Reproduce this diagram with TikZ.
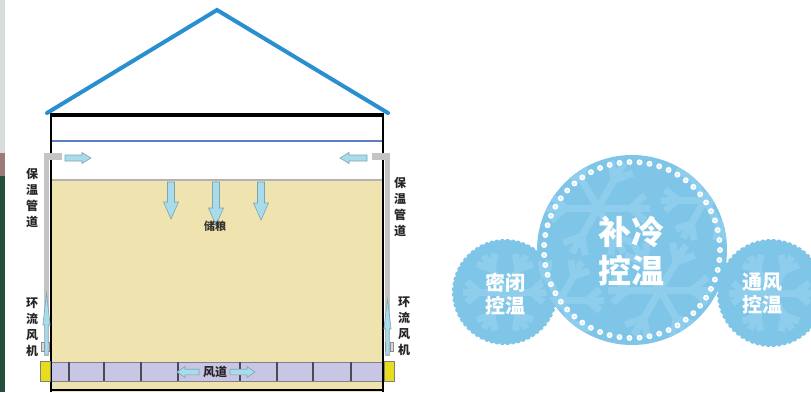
\documentclass[tikz,border=0pt]{standalone}
\usepackage{fontspec}
\newfontfamily\cjk{Noto Sans CJK SC}
\usetikzlibrary{calc}
\definecolor{roofblue}{HTML}{2A8FD0}
\definecolor{grain}{HTML}{EFE3B0}
\definecolor{duct}{HTML}{C9C5E5}
\definecolor{ductline}{HTML}{4A4A55}
\definecolor{skyline}{HTML}{5B7FC0}
\definecolor{pipe}{HTML}{C4C4C4}
\definecolor{airfill}{HTML}{A9DCEB}
\definecolor{airline}{HTML}{7FA3B5}
\definecolor{fanyellow}{HTML}{E8DC1E}
\definecolor{ice}{HTML}{7EC5E8}
\definecolor{flakeblue}{HTML}{8FCDEC}
\definecolor{icedot}{HTML}{CDEAF7}
\definecolor{stripgrey}{HTML}{D8DCDC}
\definecolor{stripred}{HTML}{9C7A76}
\definecolor{stripgreen}{HTML}{22503A}
\tikzset{
  airarrow/.style={fill=airfill, draw=airline, line width=0.6pt, line join=miter},
  sidelabel/.style={font=\cjk\bfseries\fontsize{12}{16}\selectfont, align=center, inner sep=0pt, text=black!85},
  innerlabel/.style={font=\cjk\bfseries\fontsize{11}{13}\selectfont, inner sep=0pt, text=black!80},
  bigtag/.style={font=\cjk\bfseries\fontsize{33}{39}\selectfont, align=center, inner sep=0pt, text=white},
  smalltag/.style={font=\cjk\bfseries\fontsize{20}{23}\selectfont, align=center, inner sep=0pt, text=white},
  flake/.style={flakeblue, line width=7pt, line cap=butt},
}
% block arrow: x, y, angle, length, shaft half width, head half width, head length
\newcommand\airarrow[7]{%
  \filldraw[airarrow, shift={(#1,#2)}, rotate=#3]
    (0,-#5) -- ({#4-#7},-#5) -- ({#4-#7},-#6) -- (#4,0) -- ({#4-#7},#6)
    -- ({#4-#7},#5) -- (0,#5) -- cycle;}
% six-armed snowflake: centre x, y, arm length
\newcommand\snowflake[3]{%
  \foreach \a in {0,60,...,300}{
    \draw[flake] (#1,#2) -- ++(\a:#3);
    \draw[flake] ($(#1,#2)+(\a:0.62*#3)$) -- ++(\a+40:0.38*#3);
    \draw[flake] ($(#1,#2)+(\a:0.62*#3)$) -- ++(\a-40:0.38*#3);
  }}
\begin{document}
\begin{tikzpicture}[x=1pt,y=-1pt]
\useasboundingbox (0,0) rectangle (811,392);
\fill[white] (0,0) rectangle (811,392);

% edge strip on the far left
\fill[stripgrey] (0,0) rectangle (5,153);
\fill[stripred] (0,153) rectangle (5,176);
\fill[stripgreen] (0,176) rectangle (5,392);

% ---------------- granary section ----------------
\fill[grain] (51,180) rectangle (383,392);
\draw[black!30, line width=1.2pt] (51,180) -- (383,180);
\draw[skyline, line width=1.2pt] (51,141) -- (383,141);

% air duct along the floor
\fill[duct] (51,362) rectangle (383,381);
\draw[ductline!70, line width=0.8pt] (51,362) -- (383,362) (51,381) -- (383,381);
\foreach \x in {69,104,141,178,240,277,313,351}
  \draw[ductline, line width=1.2pt] (\x,362) -- (\x,381);
\draw[black, line width=1.4pt] (51,390) -- (383,390);

% walls and ceiling
\draw[black, line width=2.2pt] (51,392) -- (51,115);
\draw[black, line width=2.2pt] (383,392) -- (383,115);
\draw[black, line width=3.4pt] (49.9,115) -- (384.1,115);

% roof
\draw[roofblue, line width=4pt, line join=miter, line cap=round] (47,113) -- (217,10) -- (388,113);

% insulated pipes
\fill[pipe] (44,153) rectangle (49,356);
\fill[pipe] (44,153) rectangle (62,160);
\fill[pipe] (385,153) rectangle (390,356);
\fill[pipe] (372,153) rectangle (390,160);

% circulation fans
\fill[fanyellow] (40,361) rectangle (50,381);
\draw[black!50, line width=0.5pt] (40,361) rectangle (50,381);
\fill[fanyellow] (384,361) rectangle (394,381);
\draw[black!50, line width=0.5pt] (384,361) rectangle (394,381);
\foreach \x in {41,46} \draw[black!45, fill=black!15, line width=0.5pt] (\x,342) rectangle ++(3.5,9);
\foreach \x in {385,390} \draw[black!45, fill=black!15, line width=0.5pt] (\x,342) rectangle ++(3.5,9);
\airarrow{46.5}{355}{90}{62}{1.6}{3.6}{32}
\airarrow{387.5}{355}{90}{56}{1.6}{3.6}{30}

% air flow arrows
\airarrow{65}{158}{0}{26}{3}{5.5}{9}
\airarrow{367}{158}{180}{27}{3}{5.5}{9}
\airarrow{171}{182}{-90}{37}{3.5}{7.5}{17}
\airarrow{216}{182}{-90}{43}{3.5}{7.5}{17}
\airarrow{261}{182}{-90}{38}{3.5}{7.5}{17}
\airarrow{199}{372}{180}{22}{2.8}{5.5}{8}
\airarrow{230}{372}{0}{25}{2.8}{5.5}{8}

% labels
\node[innerlabel] (store) at (215,226) {储粮};
\node[sidelabel, font=\cjk\bfseries\fontsize{12}{13}\selectfont] (duct) at (215,372) {风道};
\node[sidelabel] (pipeL) at (32,198) {保\\温\\管\\道};
\node[sidelabel] (fanL) at (32,327) {环\\流\\风\\机};
\node[sidelabel] (pipeR) at (400,207) {保\\温\\管\\道};
\node[sidelabel] (fanR) at (404,326) {环\\流\\风\\机};

% ---------------- temperature control badges ----------------
% side badges with toothed rims
\fill[ice] (505,292) circle (53);
\begin{scope}
  \clip (505,292) circle (53);
  \snowflake{505}{292}{42}
\end{scope}
\foreach \i in {0,...,59} \fill[white] ($(505,292)+(\i*6:53.3)$) circle (1.7);

\fill[ice] (771,293) circle (54);
\begin{scope}
  \clip (771,293) circle (54);
  \snowflake{771}{293}{42}
\end{scope}
\foreach \i in {0,...,59} \fill[white] ($(771,293)+(\i*6:54.3)$) circle (1.7);

% central badge with a beaded ring
\fill[ice] (632,250) circle (95);
\begin{scope}
  \clip (632,250) circle (95);
  \snowflake{598}{208}{52}
  \snowflake{660}{290}{52}
  \snowflake{560}{300}{44}
  \snowflake{705}{200}{44}
\end{scope}
\foreach \i in {0,...,54} {
  \fill[white] ($(632,250)+(\i*6.5455:88)$) circle (3);
  \fill[icedot] ($(632,250)+(\i*6.5455:88)$) circle (1.2);
}

\node[bigtag] (cool) at (631,251) {补冷\\控温};
\node[smalltag] (seal) at (505,294) {密闭\\控温};
\node[smalltag] (vent) at (762,293) {通风\\控温};
\end{tikzpicture}
\end{document}
